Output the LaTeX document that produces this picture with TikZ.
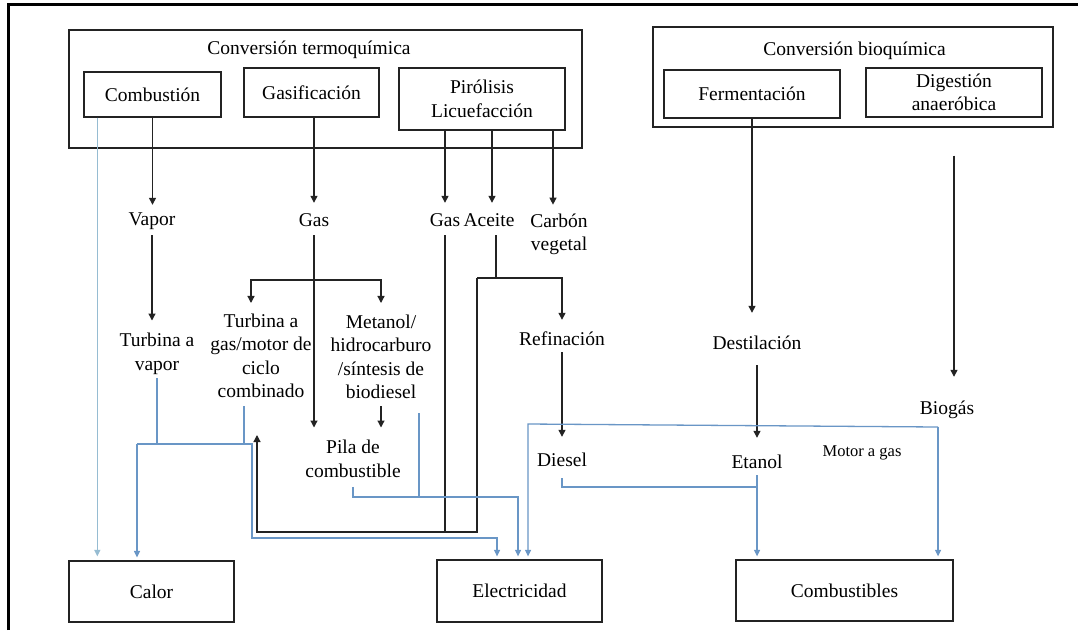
\documentclass[tikz,border=0pt]{standalone}
\usepackage{fontspec}
\setmainfont{Liberation Serif}
\usetikzlibrary{arrows.meta,calc}
\definecolor{lblue}{RGB}{105,150,198}
\definecolor{pblue}{RGB}{150,188,210}
\definecolor{dk}{RGB}{35,35,35}
\tikzset{
 box/.style={draw=dk, line width=1.3pt, inner sep=0pt, align=center},
 lab/.style={inner xsep=2pt, inner ysep=3pt, text height=13pt, text depth=4pt},
 mlab/.style={inner xsep=2pt, inner ysep=0pt, align=center},
 ln/.style={draw=dk, line width=1.25pt},
 arr/.style={ln, -{Triangle[length=7pt,width=7pt]}},
 bl/.style={draw=lblue, line width=1.3pt},
 barr/.style={bl, -{Triangle[length=6.5pt,width=6pt]}, shorten >=3pt},
}
\begin{document}
\begin{tikzpicture}[x=1pt,y=-1pt,font=\fontsize{19.5}{23.5}\selectfont]
\useasboundingbox (0,0) rectangle (1078,630);
\fill[white] (0,0) rectangle (1078,630);
% outer frame (top and left)
\draw[line width=3pt, black] (8,630) -- (8,4) -- (1078,4);

% containers
\node[box, minimum width=513pt, minimum height=118pt] (thermo) at (325.5,89) {};
\node[inner sep=0pt] (thermoT) at (309,50) {Conversión termoquímica};
\node[box, minimum width=137pt, minimum height=45pt] (comb) at (152.5,94.5) {Combustión};
\node[box, minimum width=135pt, minimum height=49pt] (gasif) at (311.5,92.5) {Gasificación};
\node[box, minimum width=166pt, minimum height=62pt] (piro) at (482,99) {Pirólisis\\Licuefacción};
\node[box, minimum width=400pt, minimum height=100pt] (bio) at (853,77) {};
\node[inner sep=0pt] (bioT) at (854.5,51) {Conversión bioquímica};
\node[box, minimum width=176pt, minimum height=48pt] (ferm) at (752,94) {Fermentación};
\node[box, minimum width=176pt, minimum height=49pt] (dig) at (954,92.5) {Digestión\\anaeróbica};

% end boxes
\node[box, minimum width=165pt, minimum height=61pt] (calor) at (151.5,591.5) {Calor};
\node[box, minimum width=165pt, minimum height=62pt] (elec) at (519.5,591) {Electricidad};
\node[box, minimum width=217pt, minimum height=61pt] (combu) at (844.5,590.5) {Combustibles};

% labels
\node[lab] (vapor) at (152,220.5) {Vapor};
\node[lab] (gas1) at (314,221.5) {Gas};
\node[lab] (gas2) at (445,221.5) {Gas};
\node[lab] (aceite) at (489,221.5) {Aceite};
\node[mlab] (carbon) at (559,234.5) {Carbón\\vegetal};
\node[mlab] (tvap) at (157,354) {Turbina a\\vapor};
\node[mlab] (tgas) at (261,356) {Turbina a\\gas/motor de\\ciclo\\combinado};
\node[mlab] (meta) at (381,357) {Metanol/\\hidrocarburo\\/síntesis de\\biodiesel};
\node[mlab] (pila) at (353,459) {Pila de\\combustible};
\node[lab] (refin) at (562,340.5) {Refinación};
\node[lab] (diesel) at (562,461.5) {Diesel};
\node[lab] (destil) at (757,344.5) {Destilación};
\node[lab] (etanol) at (757,463.5) {Etanol};
\node[lab] (biogas) at (947,409.5) {Biogás};
\node[lab, font=\fontsize{16.5}{19}\selectfont] (motor) at (862,451.5) {Motor a gas};

% helper coordinates
\coordinate (split) at (314,280);
\coordinate (lA) at (477,278);
\coordinate (lB) at (477,532);
\coordinate (lC) at (257,532);
\coordinate (lD) at (257,435);
\coordinate (hc) at (137,444);
\coordinate (lc) at (252,538);
\coordinate (pj) at (518,497);
\coordinate (dj) at (757,487);
\coordinate (bgL) at (528,424);
\coordinate (bgR) at (938,427);

% black connectors: thermochemical
\draw[arr, shorten >=4pt] (comb.south) -- (comb.south |- vapor.north);
\draw[arr, shorten <=3pt, shorten >=12.7pt] (vapor.south) -- (vapor.south |- tvap.north);
\draw[arr, shorten >=7pt] (gasif.south -| gas1) -- (gas1.north);
\draw[arr, shorten <=2pt, shorten >=12.7pt] (gas1.south) -- (gas1.south |- pila.north);
\draw[arr, shorten >=10.7pt] (split) -| ([xshift=-10pt]tgas.north);
\draw[arr, shorten >=11.7pt] (split) -| (meta.north);
\draw[arr, shorten <=7pt, shorten >=12.7pt] (meta.south) -- (meta.south |- pila.north);
\draw[arr, shorten >=7pt] (piro.south -| gas2) -- (gas2.north);
\draw[arr, shorten >=7pt] (piro.south -| aceite.north) ++(3,0) -- ([xshift=3pt]aceite.north);
\draw[arr, shorten >=9pt] (piro.south -| carbon.north) ++(-6,0) -- ([xshift=-6pt]carbon.north);
\draw[ln, shorten <=2pt] (gas2.south) -- (gas2.south |- lB);
\draw[ln, shorten <=2pt] ([xshift=7pt]aceite.south) -- ([xshift=7pt]aceite.south |- lA);
\draw[arr, shorten >=9pt] (lA) -| (refin.north);
\draw[arr] (lA) -- (lB) -- (lC) -- (lD);
\draw[arr, shorten >=13pt] (refin.south) -- (diesel.north);

% black connectors: biochemical
\draw[arr, shorten >=20pt] (ferm.south) -- (ferm.south |- destil.north);
\draw[arr, shorten <=9pt, shorten >=14pt] (destil.south) -- (etanol.north);
\draw[arr, shorten <=38pt, shorten >=21pt] (dig.south) -- (dig.south |- biogas.north);

% blue connectors
\draw[barr, draw=pblue, fill=pblue, shorten >=4pt] ([xshift=14pt]comb.south west) -- ([xshift=14pt]comb.south west |- calor.north);
\draw[bl, shorten <=3pt] (tvap.south) -- (tvap.south |- hc);
\draw[bl, shorten <=8pt] ([xshift=-17pt]tgas.south) -- ([xshift=-17pt]tgas.south |- hc);
\draw[barr] (hc) -- (hc |- calor.north);
\draw[barr] (hc) -| (lc) -| ([xshift=-22.5pt]elec.north);
\draw[barr, shorten <=9pt] (pila.south) |- (pj) -- (pj |- elec.north);
\draw[bl, shorten <=14pt] ([xshift=38pt]meta.south) -- ([xshift=38pt]meta.south |- pj);
\draw[barr] (bgR) -- (bgL) -- (bgL |- elec.north);
\draw[barr] (bgR) -- (bgR |- combu.north);
\draw[bl, shorten <=5pt] (diesel.south) |- (dj);
\draw[barr] (etanol.south) -- (etanol.south |- combu.north);
\end{tikzpicture}
\end{document}
